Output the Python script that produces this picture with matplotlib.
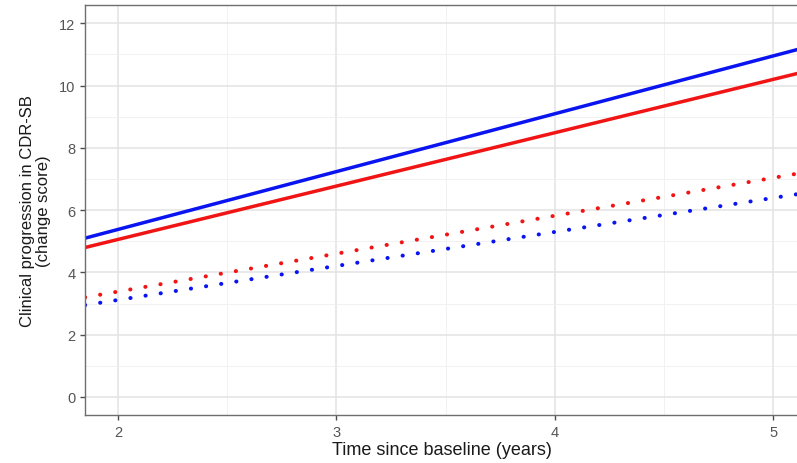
import numpy as np
import matplotlib.pyplot as plt

## Data (at the panel edges)
x_ends = [1.849, 5.115]
blue_solid = [5.10, 11.17]
red_solid = [4.80, 10.40]
red_dotted = [3.20, 7.18]
blue_dotted = [2.95, 6.52]

xticks = [2, 3, 4, 5]
yticks = [0, 2, 4, 6, 8, 10, 12]

## Figure
plt.rcParams['font.family'] = ['Liberation Sans', 'DejaVu Sans']
fig = plt.figure(figsize=(7.97, 4.64), dpi=100)
ax = fig.add_axes([85/797, 1 - 416/464, 1 - 85/797 + 0.002, 410/464])

# theme_bw style grid
ax.set_xticks(xticks)
ax.set_yticks(yticks)
ax.set_xticks([2.5, 3.5, 4.5], minor=True)
ax.set_yticks([1, 3, 5, 7, 9, 11], minor=True)
ax.grid(which='major', color='#e3e3e3', linewidth=1.1)
ax.grid(which='minor', color='#efefef', linewidth=0.6)
ax.set_axisbelow(True)

# lines
ax.plot(x_ends, blue_solid, color='#0a14f0', linewidth=2.5, solid_capstyle='butt')
ax.plot(x_ends, red_solid, color='#f01414', linewidth=2.5, solid_capstyle='butt')
ax.plot(x_ends, red_dotted, color='#f01414', linewidth=2.9,
        linestyle=(0, (0.05, 3.75)), dash_capstyle='round')
ax.plot(x_ends, blue_dotted, color='#0a14f0', linewidth=2.9,
        linestyle=(0, (0.05, 3.75)), dash_capstyle='round')

ax.set_xlim(1.849, 5.115)
ax.set_ylim(-0.58, 12.59)

for s in ax.spines.values():
    s.set_color('#6e6e6e')
    s.set_linewidth(1.0)
ax.tick_params(which='major', length=3.5, width=1.0, color='#4d4d4d',
               labelcolor='#555555', labelsize=10.5)
ax.tick_params(which='minor', length=0)

ax.set_xlabel('Time since baseline (years)', fontsize=13, color='#1a1a1a', labelpad=2)
ax.set_ylabel('Clinical progression in CDR-SB\n(change score)', fontsize=12,
              color='#1a1a1a', labelpad=6, linespacing=1.05, multialignment='center')

fig.savefig('out.png', dpi=100)
